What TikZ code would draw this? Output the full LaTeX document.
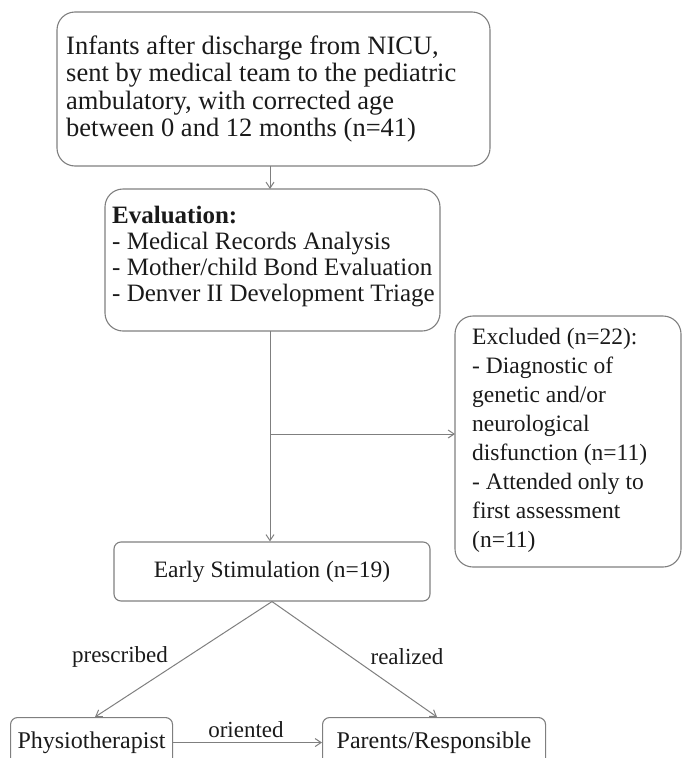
\documentclass[tikz,border=0pt]{standalone}
\usepackage{fontspec}
\setmainfont{Liberation Serif}
\usetikzlibrary{arrows.meta}
\definecolor{edge}{HTML}{7F7F7F}
\definecolor{ink}{HTML}{1A1A1A}
\tikzset{
  box/.style={draw=edge, line width=1.1pt, rounded corners=18pt, text=ink},
  smallbox/.style={draw=edge, line width=1.1pt, rounded corners=7pt, text=ink},
  conn/.style={draw=edge, line width=1pt},
  arr/.style={conn, -{Straight Barb[length=6pt,width=8pt]}},
  lbl/.style={text=ink, font=\fontsize{23}{27}\selectfont, inner sep=0pt}
}
\begin{document}
\begin{tikzpicture}[x=1pt,y=-1pt]
\useasboundingbox (0,0) rectangle (683,758);
% Box 1
\draw[box] (57,12) rectangle (490,166);
\node[anchor=west, align=left, inner sep=0pt, text=ink, font=\fontsize{26.5}{27.5}\selectfont] (b1) at (66,89)
 {Infants after discharge from NICU,\\ sent by medical team to the pediatric\\ ambulatory, with corrected age\\ between 0 and 12 months (n=41)};
\coordinate (b1s) at (270,166);
% Box 2
\draw[box] (105,189) rectangle (440,331);
\coordinate (b2n) at (270,189);
\coordinate (b2s) at (270,331);
\node[anchor=west, align=left, inner sep=0pt, text=ink, font=\fontsize{25}{26}\selectfont] (b2) at (112,257)
 {\textbf{Evaluation:}\\ - Medical Records Analysis\\ - Mother/child Bond Evaluation\\ - Denver II Development Triage};
% Excluded
\draw[box] (455,316) rectangle (681,567);
\coordinate (exw) at (455,434);
\node[anchor=west, align=left, inner sep=0pt, text=ink, font=\fontsize{23.5}{29}\selectfont] (ex) at (472,440)
 {Excluded (n=22):\\ - Diagnostic of\\ genetic and/or\\ neurological\\ disfunction (n=11)\\ - Attended only to\\ first assessment\\ (n=11)};
% Early stimulation
\node[smallbox, minimum width=316pt, minimum height=59pt, font=\fontsize{23.5}{27}\selectfont] (es) at (272,571.5) {Early Stimulation (n=19)};
% Bottom boxes
\node[smallbox, anchor=north west, minimum width=162pt, minimum height=50pt, font=\fontsize{24}{27}\selectfont] (ph) at (10,717) {Physiotherapist};
\node[smallbox, anchor=north west, minimum width=223pt, minimum height=50pt, font=\fontsize{24}{27}\selectfont] (pa) at (322,717) {Parents/Responsible};
% connectors
\draw[arr] (b1s) -- (b2n);
\coordinate (br) at (270,434);
\draw[arr] (b2s) -- (es.north -| b2s);
\draw[arr] (br) -- (exw);
\coordinate (phn) at (95,717);
\coordinate (pan) at (437,717);
\draw[arr] (es.south) -- (phn);
\draw[arr] (es.south) -- (pan);
\draw[arr] (ph.east) -- (pa.west);
\node[lbl] (l1) at (120,657) {prescribed};
\node[lbl] (l2) at (407,657) {realized};
\node[lbl] (l3) at (246,730) {oriented};
\end{tikzpicture}
\end{document}
